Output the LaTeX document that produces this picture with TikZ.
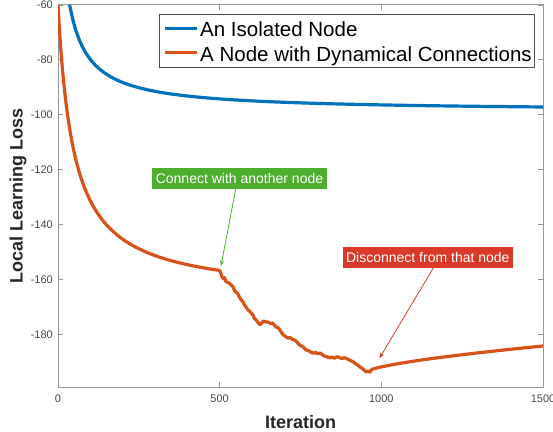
\documentclass[tikz,border=0pt]{standalone}
\usepackage{fontspec}
\setmainfont{Liberation Sans}
\usetikzlibrary{arrows.meta}

\definecolor{isoblue}{RGB}{0,114,189}
\definecolor{dynorange}{RGB}{217,83,25}
\definecolor{tagreen}{RGB}{78,175,47}
\definecolor{tagred}{RGB}{218,57,40}
\definecolor{axisgray}{RGB}{150,150,150}
\definecolor{ticktext}{RGB}{70,70,70}

\tikzset{
	curve/.style={line width=3.2pt, line join=round},
	tag/.style={fill=#1, text=white, font=\fontsize{14}{14}\selectfont,
		inner xsep=3.5pt, inner ysep=0pt, minimum height=20.5pt},
	pointer/.style={draw=#1, line width=0.8pt, -{Stealth[length=6pt, width=4pt]}},
	ticklabel/.style={text=ticktext, font=\fontsize{11}{11}\selectfont, inner sep=0pt},
	axislabel/.style={text=black!85, font=\fontsize{18}{18}\selectfont\bfseries},
	legendtext/.style={font=\fontsize{20.5}{20.5}\selectfont, inner sep=0pt, anchor=base west},
}

\begin{document}
\begin{tikzpicture}[x=1pt, y=1pt]
	\useasboundingbox (0,0) rectangle (553,431);

	% axes box
	\draw[axisgray, line width=1pt] (58,44) rectangle (543,426);

	\node[axislabel, rotate=90] (ylabel) at (18,235) {Local Learning Loss};
	\node[axislabel] (xlabel) at (300.5,9) {Iteration};

	% data coordinates: x 0..1500, y -199..-60
	\begin{scope}[shift={(58,590.87)}, x=0.32333pt, y=2.7482pt]
		\foreach \t in {0,500,1000,1500} {
			\draw[axisgray, line width=1pt] (\t,-199) -- ++(0,5pt);
			\draw[axisgray, line width=1pt] (\t,-60) -- ++(0,-5pt);
			\node[ticklabel, anchor=north] at ([yshift=-8pt]\t,-199) {\t};
		}
		\foreach \v in {-60,-80,-100,-120,-140,-160,-180} {
			\draw[axisgray, line width=1pt] (0,\v) -- ++(5pt,0);
			\draw[axisgray, line width=1pt] (1500,\v) -- ++(-5pt,0);
			\node[ticklabel, anchor=east] at ([xshift=-5pt]0,\v) {\v};
		}

		\begin{scope}
			\clip (0,-199) rectangle (1500,-60);
			\draw[curve, isoblue] plot[domain=36:1500, samples=150]
				(\x, {-98.64 + 2351/(\x+24.8)});
			\draw[curve, dynorange] plot[domain=0:500, samples=160]
				(\x, {-166 + 5174/(\x+48.8)})
				-- (503,-157.4) -- (507,-158.9) -- (511,-159.6) -- (515,-159.2)
				-- (519,-160.5) -- (524,-160.9) -- (530,-161.2) -- (535,-161.9)
				-- (540,-162.3) -- (546,-163.8) -- (551,-164.6) -- (556,-165.0)
				-- (561,-166.3) -- (566,-167.2) -- (571,-167.9) -- (577,-169.2)
				-- (582,-170.0) -- (587,-170.9) -- (592,-171.3) -- (597,-172.1)
				-- (602,-172.6) -- (607,-174.0) -- (613,-174.6) -- (619,-175.6)
				-- (625,-176.3) -- (630,-175.6) -- (636,-175.0) -- (642,-175.3)
				-- (650,-175.4) -- (657,-175.9) -- (664,-175.7) -- (670,-176.6)
				-- (676,-177.3) -- (682,-177.5) -- (688,-178.6) -- (694,-179.7)
				-- (700,-180.3) -- (706,-180.8) -- (712,-181.2) -- (718,-181.0)
				-- (725,-181.7) -- (732,-181.9) -- (739,-182.6) -- (745,-183.5)
				-- (752,-184.0) -- (760,-184.6) -- (767,-185.5) -- (775,-185.8)
				-- (782,-186.3) -- (790,-186.7) -- (797,-186.4) -- (804,-186.9)
				-- (811,-186.6) -- (818,-187.3) -- (825,-187.8) -- (832,-188.0)
				-- (840,-188.4) -- (847,-188.1) -- (855,-188.5) -- (862,-188.0)
				-- (870,-188.2) -- (878,-188.7) -- (885,-188.3) -- (893,-188.7)
				-- (900,-189.1) -- (907,-189.5) -- (914,-189.9) -- (921,-190.6)
				-- (928,-191.1) -- (935,-191.8) -- (942,-192.3) -- (948,-193.0)
				-- (954,-193.5) -- (959,-193.1) -- (964,-193.6) -- (969,-192.8)
				-- plot[domain=972:1500, samples=60] (\x, {-193.4 + 0.131*(\x-955)^0.677});
		\end{scope}

		% annotations
		\node[tag=tagreen] (connect) at (561.3,-123.2) {Connect with another node};
		\coordinate (join) at (504,-155.0);
		\draw[pointer=tagreen] ([xshift=-3.8pt]connect.south) -- (join);

		\node[tag=tagred] (disconnect) at (1143.7,-151.9) {Disconnect from that node};
		\coordinate (leave) at (993.7,-188.6);
		\draw[pointer=tagred] ([xshift=5.5pt]disconnect.south) -- (leave);
	\end{scope}

	% legend
	\node[draw=black!70, line width=0.8pt, fill=white, minimum width=375pt,
		minimum height=52.4pt, anchor=north west, inner sep=0pt] (legend) at (159.3,416.7) {};
	\draw[isoblue, line width=3pt] (165,402.7) -- (196.7,402.7);
	\node[legendtext] (isolabel) at (200,394.3) {An Isolated Node};
	\draw[dynorange, line width=3pt] (165,378.3) -- (196.7,378.3);
	\node[legendtext] (dynlabel) at (200,369.3) {A Node with Dynamical Connections};
\end{tikzpicture}
\end{document}
